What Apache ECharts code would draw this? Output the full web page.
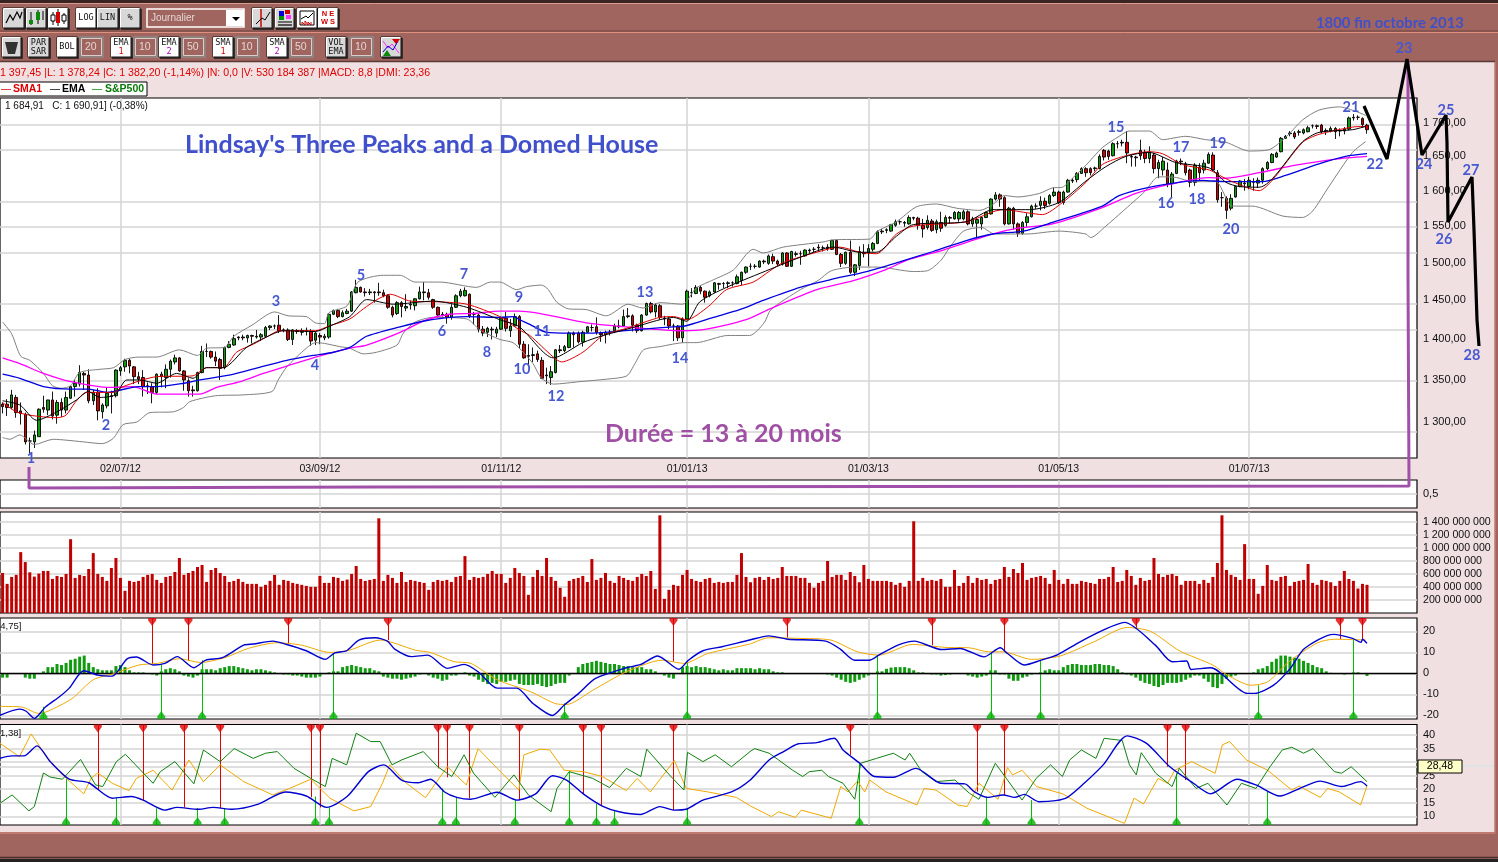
<!DOCTYPE html>
<html><head><meta charset="utf-8">
<style>html,body{margin:0;padding:0;background:#000;overflow:hidden}#c{width:1498px;height:862px}</style>
<script src="https://cdn.jsdelivr.net/npm/echarts@6/dist/echarts.min.js"></script>
</head><body><div id="c"></div>
<script>
// ---------- DATA ----------
const priceTicks=[1300,1350,1400,1450,1500,1550,1600,1650,1700];
const dateTicks=[26,70,110,151,191,233,275];
const dateLabels=['02/07/12','03/09/12','01/11/12','01/01/13','01/03/13','01/05/13','01/07/13'];
const volTicks=[200,400,600,800,1000,1200,1400];
const macdTicks=[-20,-10,0,10,20];
const dmiTicks=[10,15,20,25,30,35,40];
// open, close, low, high per session
const candles=[
[1321,1318,1310,1323],[1321,1317,1307,1327],[1317,1332,1315,1338],[1329,1311,1305,1332],[1313,1310,1297,1323],[1309,1277,1274,1311],[1278,1278,1264,1282],[1277,1285,1270,1290],[1283,1315,1283,1316],[1317,1315,1311,1331],
[1314,1326,1308,1326],[1326,1307,1303,1336],[1308,1323,1298,1326],[1323,1314,1306,1328],[1314,1329,1310,1336],[1328,1342,1327,1343],[1342,1346,1330,1350],[1345,1359,1342,1368],[1358,1356,1338,1360],[1356,1325,1322,1363],
[1325,1335,1320,1338],[1335,1313,1302,1340],[1312,1320,1304,1322],[1319,1334,1316,1341],[1331,1330,1310,1337],[1331,1362,1329,1363],[1361,1365,1355,1367],[1366,1374,1360,1376],[1374,1367,1358,1376],[1366,1354,1345,1367],
[1354,1351,1345,1360],[1353,1342,1330,1362],[1343,1342,1333,1347],[1342,1335,1322,1346],[1335,1357,1333,1358],[1357,1354,1341,1360],[1353,1363,1340,1369],[1363,1373,1353,1375],[1372,1377,1369,1381],[1377,1361,1360,1378],
[1361,1350,1337,1362],[1349,1337,1330,1352],[1338,1337,1330,1343],[1337,1359,1336,1360],[1359,1385,1358,1392],[1385,1385,1378,1395],[1385,1378,1376,1386],[1378,1373,1367,1385],[1375,1364,1350,1377],[1365,1390,1363,1391],
[1390,1394,1389,1398],[1393,1401,1392,1406],[1402,1403,1399,1404],[1403,1402,1399,1406],[1402,1405,1396,1406],[1405,1404,1395,1406],[1404,1403,1401,1412],[1403,1406,1398,1408],[1404,1415,1402,1417],[1415,1417,1412,1418],
[1417,1417,1413,1419],[1418,1411,1408,1431],[1412,1412,1409,1414],[1412,1400,1398,1414],[1400,1412,1393,1413],[1411,1410,1407,1413],[1409,1411,1405,1414],[1411,1410,1405,1415],[1410,1398,1392,1413],[1399,1408,1393,1410],
[1405,1403,1394,1408],[1402,1404,1399,1407],[1403,1432,1401,1433],[1432,1437,1431,1438],[1437,1429,1427,1439],[1429,1434,1428,1437],[1433,1436,1432,1439],[1436,1461,1435,1462],[1460,1467,1459,1477],[1467,1461,1460,1468],
[1461,1460,1455,1466],[1460,1461,1457,1465],[1461,1460,1447,1462],[1461,1460,1456,1473],[1460,1456,1454,1464],[1456,1441,1439,1458],[1441,1431,1428,1443],[1433,1447,1431,1449],[1447,1442,1428,1449],[1440,1442,1436,1458],
[1444,1445,1438,1450],[1443,1452,1437,1453],[1452,1461,1451,1468],[1461,1460,1450,1474],[1460,1454,1451,1465],[1451,1441,1439,1452],[1441,1431,1428,1442],[1431,1432,1429,1435],[1432,1428,1420,1434],[1428,1441,1425,1445],
[1441,1456,1440,1458],[1456,1462,1454,1465],[1456,1463,1455,1467],[1458,1430,1427,1459],[1432,1432,1419,1435],[1431,1413,1409,1433],[1413,1408,1404,1417],[1409,1414,1403,1416],[1413,1412,1400,1416],[1408,1413,1403,1416],
[1413,1427,1412,1429],[1427,1414,1410,1435],[1411,1417,1403,1426],[1417,1429,1416,1433],[1429,1394,1389,1431],[1394,1377,1376,1398],[1380,1379,1368,1394],[1380,1381,1372,1390],[1382,1375,1372,1386],[1374,1352,1351,1378],
[1356,1355,1345,1365],[1353,1360,1344,1367],[1359,1387,1358,1388],[1387,1386,1383,1393],[1386,1391,1384,1393],[1390,1408,1389,1410],[1408,1406,1390,1410],[1408,1397,1395,1410],[1397,1409,1391,1411],[1409,1416,1408,1417],
[1415,1415,1410,1419],[1416,1409,1406,1428],[1408,1406,1397,1410],[1406,1409,1395,1411],[1409,1409,1405,1412],[1411,1417,1408,1420],[1416,1417,1414,1425],[1417,1429,1416,1438],[1429,1430,1427,1440],[1430,1418,1410,1432],
[1418,1411,1408,1420],[1411,1431,1410,1432],[1431,1446,1430,1447],[1446,1435,1433,1448],[1435,1444,1428,1446],[1443,1428,1425,1445],[1427,1426,1418,1430],[1426,1417,1413,1428],[1417,1417,1398,1420],[1417,1402,1398,1418],
[1402,1426,1396,1428],[1426,1462,1425,1464],[1460,1460,1454,1466],[1459,1467,1458,1470],[1467,1462,1458,1470],[1462,1454,1447,1463],[1456,1461,1454,1463],[1461,1473,1460,1474],[1472,1471,1464,1473],[1472,1472,1466,1474],
[1472,1473,1466,1475],[1473,1473,1468,1475],[1472,1481,1471,1484],[1476,1487,1470,1488],[1487,1494,1485,1495],[1495,1495,1490,1499],[1495,1495,1492,1498],[1494,1502,1493,1503],[1502,1501,1498,1504],[1499,1509,1497,1511],
[1508,1502,1498,1512],[1502,1498,1495,1504],[1498,1513,1496,1514],[1513,1495,1494,1514],[1495,1515,1494,1516],[1512,1511,1508,1515],[1512,1512,1497,1516],[1509,1517,1508,1518],[1517,1516,1513,1519],[1518,1518,1514,1521],
[1521,1520,1515,1525],[1520,1520,1515,1523],[1521,1519,1516,1525],[1518,1530,1517,1531],[1530,1511,1510,1531],[1511,1499,1494,1513],[1499,1514,1497,1515],[1514,1487,1485,1530],[1487,1497,1482,1498],[1496,1515,1490,1522],
[1513,1512,1507,1525],[1513,1519,1495,1525],[1518,1526,1515,1528],[1526,1542,1525,1544],[1543,1542,1539,1546],[1544,1545,1540,1547],[1543,1552,1542,1553],[1551,1556,1549,1559],[1556,1556,1552,1558],[1554,1555,1549,1557],
[1553,1562,1552,1565],[1562,1561,1558,1563],[1561,1551,1545,1563],[1551,1546,1534,1560],[1548,1558,1545,1565],[1557,1544,1542,1560],[1545,1556,1540,1559],[1555,1547,1542,1570],[1551,1562,1549,1565],[1562,1561,1553,1564],
[1560,1569,1559,1571],[1560,1569,1556,1571],[1560,1570,1558,1573],[1570,1553,1551,1572],[1553,1560,1549,1563],[1554,1559,1533,1562],[1553,1562,1545,1563],[1562,1569,1561,1570],[1567,1588,1566,1589],[1588,1594,1586,1598],
[1594,1588,1577,1596],[1590,1553,1551,1592],[1553,1575,1552,1577],[1575,1553,1545,1577],[1553,1540,1535,1555],[1540,1555,1538,1557],[1555,1563,1549,1568],[1563,1578,1562,1580],[1578,1578,1574,1582],[1579,1585,1572,1592],
[1585,1579,1574,1590],[1582,1593,1580,1595],[1593,1598,1591,1605],[1598,1583,1581,1600],[1583,1598,1580,1600],[1598,1615,1597,1617],[1615,1614,1611,1618],[1616,1625,1612,1627],[1625,1632,1624,1634],[1632,1626,1620,1634],
[1632,1626,1622,1634],[1632,1633,1628,1635],[1632,1650,1631,1653],[1659,1649,1644,1661],[1658,1650,1645,1660],[1651,1669,1650,1671],[1669,1669,1662,1673],[1670,1671,1665,1675],[1671,1655,1640,1688],[1650,1649,1635,1652],
[1649,1648,1635,1651],[1659,1651,1645,1675],[1656,1647,1640,1660],[1647,1656,1640,1665],[1652,1632,1625,1655],[1632,1641,1618,1645],[1630,1643,1622,1649],[1630,1610,1605,1641],[1610,1624,1590,1627],[1625,1643,1624,1645],
[1643,1642,1637,1647],[1639,1626,1622,1642],[1630,1612,1605,1632],[1612,1637,1607,1640],[1634,1626,1615,1640],[1630,1640,1625,1645],[1640,1653,1639,1656],[1652,1630,1628,1656],[1626,1587,1583,1630],[1590,1590,1577,1598],
[1589,1572,1560,1592],[1575,1589,1572,1595],[1591,1606,1590,1607],[1606,1614,1605,1615],[1610,1611,1600,1617],[1606,1615,1602,1620],[1612,1613,1600,1618],[1611,1615,1604,1619],[1615,1632,1610,1634],[1632,1641,1630,1643],
[1641,1653,1640,1655],[1649,1655,1648,1657],[1657,1677,1656,1679],[1677,1680,1676,1682],[1684,1685,1680,1688],[1685,1679,1676,1688],[1686,1687,1681,1690],[1685,1690,1683,1692],[1687,1693,1686,1696],[1696,1696,1692,1698],
[1696,1695,1691,1698],[1697,1687,1685,1699],[1689,1688,1682,1692],[1688,1692,1686,1695],[1692,1687,1676,1694],[1689,1688,1680,1692],[1688,1691,1683,1694],[1691,1708,1689,1710],[1708,1709,1704,1714],[1709,1709,1705,1712],
[1707,1698,1693,1709],[1697,1690,1684,1699]];
const bollUp=[[0,1422],[2,1407],[4,1379],[6,1374],[9,1358],[11,1343],[13,1340],[15,1343],[17,1359],[21.5,1363],[24.5,1365],[27,1375],[30,1378],[34,1378],[39,1387],[43,1380],[45,1389],[49,1390],[51,1404],[55,1418],[60,1435],[63,1430],[67,1429],[69,1421],[71,1420],[72,1434],[76,1443],[78.4,1474],[84,1483],[87.7,1483],[91,1474],[96.5,1474],[104.6,1467],[107.6,1474],[109.7,1474],[113.4,1464],[115.6,1468],[118.9,1470],[120.4,1464],[122.2,1448],[124.8,1439],[128.8,1438],[133.2,1430],[138,1445],[141.3,1440],[145,1447],[150,1445],[153,1466],[156.8,1477],[161.2,1490],[165.6,1518],[167.8,1513],[172.2,1521],[181,1528],[183.2,1531],[191.3,1532],[193,1543],[197.2,1556],[201.6,1577],[206,1581],[210.5,1575],[215.6,1572],[218.4,1580],[221,1593],[224,1591],[228.7,1596],[231.6,1604],[233.8,1605],[236,1618],[239,1637],[242.6,1663],[246.3,1680],[248.5,1688],[253,1688],[255.9,1675],[261,1680],[265.4,1675],[269.9,1671],[275,1658],[279.4,1660],[283,1678],[286.8,1705],[290.4,1720],[294.9,1725],[300.7,1712]];
const bollLow=[[0,1282],[1.6,1280],[3.8,1285],[7,1274],[11.2,1280],[14,1279],[17.8,1277],[22,1275],[24.4,1281],[26.6,1297],[29.6,1300],[32.5,1311],[37.7,1312],[39.9,1317],[41.3,1324],[47,1331],[53,1332],[59.4,1336],[60.8,1350],[62.7,1366],[67,1389],[69,1396],[71,1395],[74.4,1391],[76.6,1389],[79.6,1382],[82.5,1384],[87,1393],[88.4,1408],[91,1422],[95,1428],[102.4,1426],[105.3,1412],[109.7,1400],[112.6,1396],[115,1383],[117,1370],[118.9,1352],[121.5,1345],[127.4,1348],[133.3,1351],[137.7,1355],[139.5,1370],[141.4,1387],[145,1391],[150.5,1396],[153,1396],[160,1405],[164.8,1405],[168,1421],[169.5,1438],[176,1464],[179.9,1476],[182.8,1489],[188,1494],[193,1494],[201,1488],[204,1489],[207,1503],[209,1521],[212,1543],[216,1548],[218.8,1539],[226,1539],[233,1543],[239,1539],[240,1534],[243.4,1550],[247,1570],[252,1599],[255,1620],[259,1619],[262.5,1613],[267.6,1613],[271.3,1578],[275.7,1578],[282.4,1564],[286.8,1562],[289,1571],[292.6,1606],[297.8,1656],[300.7,1672]];
const ema50=[[0,1357],[3.8,1352],[9,1342],[15,1339],[19,1339],[23,1335],[30,1342],[34,1342],[40,1346],[43.5,1350],[51,1357],[57,1366],[62.7,1374],[68.5,1380],[73,1384],[76.6,1390],[80.3,1404],[87.7,1416],[93.6,1424],[98.7,1428],[102.4,1429],[109.7,1428],[112.7,1429],[114.1,1425],[116.3,1419],[120,1409],[125,1408],[130.1,1408],[141.3,1413],[148,1416],[150.5,1417],[156.8,1428],[162.6,1438],[167.8,1450],[175.9,1467],[182.5,1477],[190.6,1488],[197.9,1501],[205.3,1515],[212.6,1530],[218.5,1539],[225.2,1543],[231.6,1555],[242.6,1578],[246.3,1593],[253.7,1606],[264.7,1615],[269.9,1613],[277.9,1613],[283,1622],[290.4,1639],[296.3,1650],[301,1654]];
const sma50=[[0,1377],[3.8,1370],[9,1358],[15,1348],[23.7,1341],[28.8,1342],[34,1333],[43.5,1333],[47.2,1341],[52.4,1348],[57.5,1358],[62.7,1367],[68.5,1377],[76.6,1389],[80.3,1393],[87.7,1409],[93.6,1425],[98.7,1432],[103.9,1433],[109.7,1436],[114,1436],[128.8,1421],[133.2,1418],[141.3,1414],[150,1411],[155.3,1413],[164,1425],[169.3,1439],[179.6,1464],[187.7,1476],[195,1491],[199.4,1503],[207.5,1517],[218.5,1539],[224,1547],[231.6,1553],[242.6,1576],[250,1596],[257.4,1609],[266.2,1619],[269.9,1618],[277.2,1626],[285.3,1637],[294.1,1646],[301,1650]];
const sma10=[[0,1323],[3,1312],[6,1308],[9,1306],[12,1305],[14,1308],[16,1323],[18.5,1335],[24.4,1335],[26.6,1342],[34,1354],[42,1355],[45,1365],[48.7,1365],[51.6,1384],[55.3,1394],[58.2,1403],[61.2,1411],[69,1411],[72,1417],[76.6,1426],[79.6,1439],[82.6,1451],[85.5,1458],[90,1449],[96.5,1448],[102.4,1445],[109.7,1429],[114,1412],[116.3,1405],[121.5,1378],[123.3,1372],[128,1384],[132.5,1405],[137.6,1414],[145,1428],[148,1429],[150.9,1425],[155.7,1442],[159.7,1464],[165.6,1474],[169.3,1489],[172.2,1500],[179.6,1514],[184.7,1521],[189.1,1514],[192.8,1512],[197.2,1539],[200.9,1550],[212.6,1556],[218.5,1570],[220.7,1573],[226.6,1568],[229.4,1566],[233.8,1583],[239,1612],[242.6,1638],[247.8,1651],[252.9,1657],[255.9,1654],[260.3,1638],[266.2,1630],[269.1,1620],[271.3,1613],[277.2,1600],[280.1,1615],[286.8,1671],[290.4,1683],[297.8,1694],[300.7,1695]];
const ema10=[[0,1325],[3.8,1320],[7.5,1302],[12,1312],[16.3,1326],[18.9,1336],[21.5,1329],[24.8,1332],[27.4,1350],[30.3,1350],[34,1346],[38.4,1358],[42,1352],[45,1365],[48.7,1365],[53.8,1390],[58.2,1403],[61.9,1411],[69,1410],[72.2,1417],[76.6,1429],[80.3,1451],[86.2,1445],[95,1449],[102.4,1441],[109.7,1425],[114,1416],[121.5,1377],[128,1396],[132.5,1405],[138.4,1414],[145,1425],[148,1428],[150.9,1423],[153.8,1448],[159.7,1467],[169.3,1491],[175.9,1507],[183.2,1521],[189.1,1514],[192.8,1514],[197.2,1536],[200.9,1552],[212.6,1556],[218.5,1573],[226.5,1573],[233,1583],[239,1614],[243.4,1635],[247.8,1650],[252.9,1656],[258.8,1641],[266.2,1633],[269.9,1612],[272.8,1606],[277.2,1605],[286.8,1672],[290.4,1686],[297.8,1690],[300.7,1695]];
// volume, millions of shares
const volume=[617,449,556,587,938,785,627,561,607,648,648,525,571,556,602,1137,541,587,571,678,923,602,556,495,694,847,541,342,495,479,495,556,587,602,510,464,556,571,632,847,587,617,648,709,740,479,663,694,617,571,479,495,525,479,449,449,449,403,434,495,587,434,510,495,464,449,434,418,403,403,571,464,464,556,541,495,515,602,724,525,495,510,525,1459,495,587,541,464,632,479,510,495,479,464,357,479,510,495,510,479,556,571,877,510,556,541,556,602,648,602,602,464,541,694,617,571,280,556,663,571,847,556,495,388,250,495,525,541,571,479,831,510,541,617,495,464,571,541,510,495,556,602,571,648,372,1505,219,357,434,418,587,663,525,495,479,525,541,464,479,464,479,479,587,923,556,474,541,556,510,556,525,541,709,571,571,571,541,541,464,388,464,495,801,556,587,587,510,632,571,474,740,525,495,495,495,495,479,434,464,403,495,1413,495,541,495,510,495,525,403,403,663,418,464,571,464,541,510,525,449,510,525,709,556,678,617,770,510,541,556,571,541,449,663,510,449,525,449,449,495,479,464,449,525,525,556,709,479,495,663,571,434,541,495,510,847,602,556,587,602,571,434,495,495,495,449,510,464,556,770,1505,663,587,556,510,1061,525,525,296,418,740,510,495,556,571,418,479,495,510,755,464,434,510,495,474,418,495,648,525,495,377,449,434];
const macdHist=[-2,-2,0,0,0,-2,-2.5,-2.5,0,1,3,3,4.5,4,5,6.5,7,8,8.5,5,3,2,1.5,1.5,1.5,3.5,4,3,1.5,.5,.5,.5,0,-.5,-1,1,2,2.5,2,1,-1,-1.5,-2,-1,2,2,2,1.5,2.5,3,3.5,3.5,3,2.5,2,1.5,2,2,1.5,1,.5,0,-.5,-.5,-1,-1,-1.5,-2,-2,-2,-1.5,0,.5,1,1,3,3.5,4,3.5,3,2.5,2.5,1.5,1,-1.5,-2,-2.5,-2.5,-3,-2.5,-2,-1.5,-.5,0,-1,-2,-2.5,-3.5,-3,-1,-1,0,.5,-1,-1.5,-3,-4,-5,-4.5,-5,-4,-4,-3.5,-3,-5,-5.5,-5.5,-5.5,-5,-6,-6.5,-6,-5,-4.5,-4.5,-1,0,3,4.5,5,5.5,6,5.5,5,4.5,4.5,4,3.5,3.5,3,3,3,2,2,1,0,-1,-2,-2.5,0,3,3.5,3,3.5,3,3,2.5,2,1.5,2,1.5,1.5,2.5,2.5,2.5,2.5,2,2.5,2,2,1,.5,.5,0,0,0,0,0,0,0,0,0,-.5,-1,-2,-3,-4,-4.5,-4,-3,-2,-1,0,1,1,2.2,2.8,3,3,3,2.5,1.5,.5,.5,0,-.5,-.5,-1,-.8,-.5,0,0,0,-1,-1.5,-2,-1.5,-1,1.5,1.5,-.5,-.5,-2.5,-3.5,-3.5,-2,-1.5,-.5,0,.5,1.5,2,1.5,1.5,3,4,4.5,4.5,4,4,4,4.5,4.5,4,4,3.5,2,.5,-.5,-1,-2,-3.5,-4.5,-5,-6,-6.5,-5.5,-4.5,-4.5,-4.5,-4,-3,-2,-1,-1,-2.5,-4,-6.5,-7,-5,-2.5,-1.5,-1,0,0,0,.5,2,2.5,3.5,5.5,7,8.5,8.5,8,7.5,7,6,5,4,3,2.5,1,.3,0,0,-.5,0,.5,.5,0,-1.2];
const macdLine=[[-0.6,-20],[3.7,-17],[5.2,-18],[7,-21.4],[9.5,-15.9],[12.6,-11],[14.7,-7],[17.9,1.3],[21,-.8],[24.2,-1.3],[27.4,6.8],[29.5,7.8],[33.2,4],[35.8,4.8],[38.5,8],[42.2,2.7],[44.8,6.3],[48.5,7.5],[53.2,13.5],[55.3,14],[59.6,15.4],[62.7,13.8],[67,10.8],[71.2,6.7],[73.3,9.8],[75.9,10.8],[78.6,15.9],[82.2,17],[84.9,15.4],[86.5,11.6],[90.2,8],[93.8,8.7],[98.1,2.4],[101.8,4.3],[104.9,.8],[109.1,-7],[113.4,-7],[117,-14.3],[121.3,-20],[123.9,-15],[127.1,-9.5],[130.8,-2.4],[137.6,2.7],[140.8,4.3],[144.5,8.3],[149.2,2],[151.3,6.3],[154.5,10.8],[158.7,12.7],[164.8,15.9],[169,17.9],[173.2,16.3],[181.6,15.4],[184.8,11.6],[188,6.3],[191.2,6.3],[193.3,8.7],[197.5,13.5],[201.2,15.4],[204.9,12.7],[207,11.4],[211.2,11.9],[216.5,7.9],[220.1,12.2],[221.7,9.5],[225.4,4],[229.1,6.3],[232.8,9],[237.5,14.8],[242.8,20.6],[247.5,24.3],[254.3,13.5],[258,5.6],[261.2,5.9],[262.2,1.9],[266.5,2.7],[274.6,-9.5],[276.2,-9.5],[280.4,-5.6],[284.1,2.4],[287.2,11.9],[293.6,18.6],[297.8,16.7],[299.7,14.8],[300,16.3],[301,14.3]];
const macdSignal=[[-0.6,-15.7],[4.2,-16],[7.9,-19],[10,-18],[15.3,-12],[20,-3],[24.7,0],[30,4],[34.2,4.8],[39,7],[43.7,5.2],[49,7.5],[54.3,12],[60.6,14.6],[65.9,13.5],[72.2,10],[76.4,11],[83.3,15.9],[91.2,11],[94.4,10],[99.6,5.6],[103.3,4.8],[109.1,-3],[116.5,-8.7],[121.8,-14.3],[124.4,-14.8],[130.2,-8],[137.6,.8],[145.5,6.3],[150.3,4.8],[155.6,9.5],[164.8,14],[169,17],[175.4,16.7],[182.7,15.9],[188.6,10.3],[193.3,8.7],[200.7,13.8],[208.1,12.4],[213.3,12.2],[217.5,10.3],[220.7,10.3],[227,6.7],[233.3,8.3],[240.7,15],[248.1,21.9],[253.3,20],[259.6,10.8],[267,4],[270.2,-.8],[275.4,-5.6],[279.1,-4],[283.8,5.6],[290.1,14.6],[293.8,16.3],[300.7,15.9]];
const macdSell=[[33,4.3],[41,5.9],[63,14.3],[85,15.9],[148,5.6],[173,17.1],[205,13.5],[221,10.3],[250,21.7],[295,16.3],[300,15.9]];
const macdBuy=[[9,-15.9],[35,4.3],[44,6.3],[73,9.5],[124,-14.3],[151,6.3],[193,8.7],[218,10.3],[229,6.3],[277,-5.6],[298,16.7]];
const adx=[[-0.6,31.4],[2.1,32.3],[4.7,32.3],[7.6,36],[10.5,30.2],[14.7,23.7],[19,22.4],[24.2,16.7],[28.4,17.3],[31,16],[35.8,12.3],[38.5,13.3],[43.2,12.6],[46.4,13.3],[50.6,12.6],[56.4,14.5],[62.4,19],[67,17.5],[71.5,13.3],[76,17.3],[80.7,26.5],[84.1,29],[88,23.4],[91.7,22.4],[94.4,23.7],[97.5,19],[100.2,17],[103.3,16.3],[109.1,18.9],[113.4,16],[117.6,18.3],[121.3,25],[124.4,23.4],[128.1,18.3],[132.3,13.8],[136,11.7],[140.8,10.7],[145,13.6],[148.2,12.3],[150.8,12.6],[154.5,16],[160.8,19],[164.8,23.2],[169.1,30.8],[172.3,33.9],[175.4,36.7],[179.6,37.2],[183.5,38.8],[185.4,34.5],[189.1,29.6],[192.3,24.7],[196.5,24.4],[201.5,27.7],[207,22.2],[212.3,22],[214.4,19],[217.3,17],[220.7,17.9],[223.3,17],[225.4,18.1],[228.6,15.4],[232.3,15.8],[234.9,17],[238.6,22.2],[242.8,29],[248.1,39.7],[252.3,37],[257.5,28.3],[262.7,22.2],[266.5,18.3],[272.3,23.7],[276.5,21.6],[281.8,17.5],[285.9,20.1],[290.7,23],[295.4,21],[299.6,22.8],[301,21.2]];
const diPlus=[[-0.6,14.8],[2.1,17.9],[5.8,12],[7,13.6],[9,26],[10.5,24.5],[13.2,23.7],[17.2,31],[20.5,21.6],[22.1,21],[25.1,30.2],[27.1,32.9],[31.1,25.9],[33.2,22.2],[34.8,26.5],[38,30.2],[42.2,22],[44.3,34.5],[48,30.2],[51.1,35],[55.3,31.4],[58,33.3],[60.6,33.9],[64.3,27.7],[68,24],[71.2,21],[72.7,31.4],[75.9,29],[78,40.7],[81.2,37.6],[83.3,37.6],[85.9,29],[88,30.8],[92.8,33.9],[96,28.3],[99.1,24.7],[101.8,32.7],[103.9,25.9],[108.6,17],[112.8,25.3],[116,17.9],[121,11.7],[122.3,20.3],[125,26.5],[130.2,24],[133.9,20.6],[137.6,27.7],[140.8,24.7],[142.1,34.8],[147.1,25.3],[150.3,19.7],[151.1,33.6],[154.5,30.2],[157.2,32.7],[160.8,28.3],[164.9,33.9],[165.9,35],[169.1,33.3],[171.2,30.8],[174.3,27],[176.5,24.7],[178,26.5],[180.7,27],[182.2,24.7],[185.4,22.2],[188,16.3],[189.3,29.6],[192.8,31.4],[196.5,33.3],[199.1,30.8],[200.1,33.3],[202.8,26.5],[205.9,22.8],[210.1,23.4],[213.3,18.5],[215.4,16.3],[219,29.6],[224.9,16],[228,24],[231.2,29],[233.8,24.7],[235.4,30.8],[238,34.5],[241.2,31.4],[243,38.8],[247,38],[248.6,29],[250.1,25.3],[251.2,33.5],[254.4,25.9],[258,21],[259.6,27.7],[263.3,20.3],[265.9,22.2],[270.1,14.2],[273.3,22.2],[276.5,20.3],[279.6,28.3],[282.3,34.5],[284.4,35.5],[287,33.3],[289.1,35],[293.8,26.5],[295.4,25.9],[297.5,28.3],[301,22.8]];
const diMinus=[[-0.6,37],[3.7,32],[6.3,40.4],[10,31.4],[13.2,25.3],[17.9,18.3],[19.5,24],[21,26],[24.2,22.2],[27.9,19.5],[29.5,24],[33.2,27],[37.4,19.7],[41.1,30.8],[44.3,22.8],[48,29],[53.2,22.8],[59.6,17.9],[63.3,20.3],[68,23.7],[72.2,16.7],[77.5,12],[81.2,13.6],[83.8,22.2],[85.4,29],[89.1,22.2],[93.3,16.9],[98.1,28.3],[102.3,21.6],[104.9,35],[109.1,27.7],[113.9,19.7],[115,32.7],[118.6,34.8],[120.7,34.5],[123.9,27],[128.1,26.5],[132.3,24.7],[137.6,19.5],[140,24],[142.9,19],[148.2,30.6],[150.8,20.3],[155.6,19],[161.9,17],[165,13.8],[169.6,9.9],[171.2,11.7],[174.9,9.6],[176.2,12.3],[182.8,9.3],[184.9,21],[186.5,19],[188.6,23],[190.2,19],[191.3,23.4],[194.9,19],[201.7,14.2],[203.3,20.3],[205.9,19.7],[210.7,14.2],[212.8,13.6],[215.4,22.2],[219.6,16.3],[221.7,28],[222.8,25.3],[224.9,27],[228.1,21],[231.3,19.5],[233.9,18.3],[239.2,13],[247.5,7.4],[249.6,16.7],[251.7,14.6],[254.9,24],[257,22.2],[258.6,27],[262.3,30.2],[267.5,25.9],[269.1,36.4],[270.7,37.6],[274.4,30.8],[279.1,27],[284.4,19.7],[286,21.2],[290.7,17],[292.3,20.3],[294.9,19],[299.6,14.2],[301,21.3]];
const dmiSell=[[21,19.7],[31,16],[40,13.3],[48,13],[68,17],[70,13.3],[96,27.7],[98,24.4],[103,16.7],[114,16],[128,18.3],[132,14.2],[148,12.3],[187,32.7],[215,19.1],[221,17.9],[257,28.3],[261,23.4]];
const dmiBuy=[[14,23.7],[25,16.7],[34,13],[43,13],[49,13],[69,17.3],[72,13.3],[97,20.3],[100,17],[113,16],[125,26.5],[131,14.6],[135,12.1],[151,13],[189,29.6],[217,17.3],[227,16],[259,25.9],[279,19.1]];
// hand-drawn annotations, in picture coordinates
const waveLabels=[['1',31,458],['2',106,425],['3',276,301],['4',315,365],['5',361,275],['6',442,331],['7',464,274],['8',487,352],['9',519,297],['10',522,369],['11',542,331],['12',556,396],['13',645,292],['14',680,358],['15',1116,127],['16',1166,203],['17',1181,147],['18',1197,199],['19',1218,143],['20',1231,229],['21',1351,107],['22',1375,164],['23',1404,48],['24',1424,164],['25',1446,110],['26',1444,239],['27',1471,170],['28',1472,355]];
const forecast=[[1364,106],[1387,159],[1407,59],[1422,155],[1446,115],[1447,143],[1448,222],[1472,177],[1474,230],[1477,320],[1479,346]];
const durationLine=[[1408,60],[1408,274],[1409,276],[1409,486],[375,487],[29,488],[29,467]];

// ---------- HELPERS ----------
const lg=v=>Math.log10(v);
const pxToPrice=y=>1300*Math.exp((422-y)/1114);
const xMin=-0.574,xMax=312.03;
const fmtThousands=v=>String(Math.round(v)).replace(/\B(?=(\d{3})+(?!\d))/g,' ');
const LBL='"Liberation Sans",Arial,sans-serif';
const LBL2='Lato,"Noto Sans",sans-serif';
const GRID='#d4d4d4';
const grids=[
 {left:0,top:98,width:1417,height:360},
 {left:0,top:480,width:1417,height:28},
 {left:0,top:512,width:1417,height:101},
 {left:0,top:618,width:1417,height:101},
 {left:0,top:724.5,width:1417,height:100.5},
 {left:0,top:0,width:1498,height:862,show:false,borderWidth:0}
].map((g,i)=>i<5?Object.assign({show:true,backgroundColor:'#fff',borderColor:'#000',borderWidth:1.2},g):g);
const xAxes=[0,1,2,3,4].map(i=>({gridIndex:i,type:'value',min:xMin,max:xMax,
  axisLine:{show:false},
  axisTick:{show:false,customValues:dateTicks},
  splitLine:{show:true,lineStyle:{color:GRID,width:1.5}},
  axisLabel:i===0?{show:true,customValues:dateTicks,color:'#111',fontSize:10.5,fontFamily:LBL,margin:6,
     formatter:v=>dateLabels[dateTicks.indexOf(Math.round(v))]||''}:{show:false}}));
xAxes.push({gridIndex:5,type:'value',min:0,max:1498,show:false});
function yAxis(i,min,max,labels,fmt,size){
  return {gridIndex:i,type:'value',position:'right',min,max,
    axisLine:{show:false},
    axisTick:{show:false,customValues:labels},
    splitLine:{show:false},
    axisLabel:{show:true,customValues:labels,formatter:fmt,color:'#111',fontSize:size||11,fontFamily:LBL,margin:6}};
}
const yAxes=[
 yAxis(0,lg(pxToPrice(458)),lg(pxToPrice(98)),priceTicks.map(lg),v=>fmtThousands(Math.pow(10,v))+',00'),
 yAxis(1,0,1,[0.5],()=>'0,5'),
 yAxis(2,0,1556,volTicks,v=>fmtThousands(v*1e6),10.6),
 yAxis(3,-21.7,26.4,macdTicks,v=>String(v)),
 yAxis(4,6.8,43.9,[10,15,20,25,35,40],v=>String(v)),
 {gridIndex:5,type:'value',min:0,max:862,inverse:true,show:false}
];
// horizontal grid rules read through the panel's own y scale
const rules=(gi,vals)=>({type:'line',xAxisIndex:gi,yAxisIndex:gi,silent:true,symbol:'none',z:1,
  data:[[0,vals[0]],[1,vals[0]]],lineStyle:{opacity:0},
  markLine:{silent:true,symbol:'none',animation:false,label:{show:false},z:1,lineStyle:{color:GRID,width:1.5,type:'solid'},
    data:vals.map(v=>({yAxis:v}))}});
const line=(name,data,color,w,gi,transform,smooth)=>({name,type:'line',xAxisIndex:gi,yAxisIndex:gi,symbol:'none',silent:true,smooth:smooth||false,
  data:data.map(p=>[p[0],transform?transform(p[1]):p[1]]),lineStyle:{color,width:w},z:5});
const priceLine=(n,d,c,w)=>line(n,d,c,w,0,lg,0.25);
const DOWN='path://M0 0L10 0L10 3L5 10L0 3Z', UP='path://M5 0L10 7L10 10L0 10L0 7Z';
function signals(gi,list,top,color,dark){
  const isTop=top.dir<0;
  return [{
    type:'scatter',xAxisIndex:gi,yAxisIndex:gi,clip:false,silent:true,symbol:isTop?DOWN:UP,symbolSize:[8,8],
    symbolOffset:[0,isTop?4:-4],data:list.map(p=>[p[0],top.val]),itemStyle:{color:dark},z:8,
    markLine:{silent:true,symbol:'none',animation:false,label:{show:false},lineStyle:{color,width:1,type:'solid'},
      data:list.map(p=>[{coord:[p[0],top.val]},{coord:[p[0],p[1]]}])}
  }];
}
// ---------- GRAPHICS (window furniture) ----------
const BROWN='#a0655f',PINK='#f0e0e1';
const gfx=[];
const rect=(x,y,w,h,fill,stroke,z,lw)=>gfx.push({type:'rect',z:z===undefined?-5:z,silent:true,shape:{x,y,width:w,height:h},style:{fill:fill||'none',stroke:stroke||null,lineWidth:lw||1}});
const text=(t,x,y,o)=>gfx.push({type:'text',z:o.z||60,silent:true,style:Object.assign({text:t,x,y,textAlign:o.align||'left',textVerticalAlign:'middle',fontFamily:o.family||LBL,fontSize:o.size||10,fontWeight:o.weight||'normal',fill:o.fill||'#000'},{})});
const pl=(pts,stroke,w,z)=>gfx.push({type:'polyline',z:z||3,silent:true,shape:{points:pts},style:{stroke,lineWidth:w||1,fill:'none'}});
rect(0,0,1498,862,BROWN);
rect(0,0,1498,3,'#3a2422');pl([[0,3.5],[1498,3.5]],'#d99a90',1);
pl([[0,31],[1498,31]],'#6e4540',1);pl([[0,32.5],[1498,32.5]],'#e0907f',1);
rect(0,62,1495,771,PINK);pl([[0,61.5],[1495,61.5]],'#5a3a36',1.5);
pl([[0,833],[1495,833]],'#c07a70',2);pl([[1495,62],[1495,833]],'#c07a70',1.5);
pl([[0,857.5],[1498,857.5]],'#4a2e2b',1.5);rect(0,859,1498,3,'#222');
// toolbar
function btn(x,y,w,h,bg,lines,extra){
  rect(x,y,w,h,bg,'#111',2);
  pl([[x+0.5,y+h-0.5],[x+0.5,y+0.5],[x+w-0.5,y+0.5]],'#fff',1,2);
  pl([[x+w+1,y+1],[x+w+1,y+h+1],[x+1,y+h+1]],'#1a1a1a',1.5,2);
  (lines||[]).forEach((l,i)=>{
    const n=lines.length,yy=y+h/2+(i-(n-1)/2)*9;
    text(l.t||l,x+w/2,yy,{align:'center',size:8.5,family:'"DejaVu Sans Mono",monospace',fill:l.c||'#111',z:5});
  });
}
function input(x,y,w,h,t){
  rect(x,y,w,h,BROWN,'#8a8a8a',2,1.5);rect(x+1.5,y+1.5,w-3,h-3,BROWN,'#e8e8e8',2,.8);
  text(t,x+5,y+h/2,{size:10.5,fill:'#e4d6d4',z:5});
}
const G='#d8d8d8',W='#fff';
btn(3,8,21,20,G);pl([[6,23],[10,15],[13,20],[17,12],[20,18],[22,12]],'#000',1.2,4);
btn(26,8,20,20,G);pl([[31,12],[31,25]],'#000',1,4);rect(29,20,4,4,'#0a8a0a',null,4);pl([[38,10],[38,24]],'#000',1,4);rect(36,12,4,8,'#0a8a0a',null,4);pl([[43,11],[43,20]],'#000',1,4);
btn(48,8,20,20,W);pl([[53,12],[53,25]],'#000',1,4);rect(51,15,4,6,'#fff','#000',4);pl([[58,9],[58,26]],'#000',1,4);rect(56,12,4,11,'#d00000',null,4);pl([[64,13],[64,24]],'#000',1,4);rect(62,15,4,6,'#fff','#000',4);
btn(76,8,20,20,W,['LOG']);btn(97,8,21,20,G,['LIN']);btn(120,8,20,20,G,['%']);
rect(147,9,97,18,BROWN,'#fff',2,1.5);text('Journalier',151,18.5,{size:10,fill:'#e4d6d4',z:5});rect(226,10,18,16,'#fff',null,3);
gfx.push({type:'polygon',z:4,silent:true,shape:{points:[[232,17],[240,17],[236,21]]},style:{fill:'#000'}});
btn(252,8,20,20,G);pl([[261,9],[261,27]],'#d00000',1.5,4);pl([[256,24],[262,18],[265,20],[270,12]],'#000',1,4);
btn(275,8,19,20,G);rect(279,11,5,5,'#0000d0',null,4);rect(285,10,5,4,'#d00000',null,4);rect(279,16,5,4,'#0a8a0a',null,4);rect(286,15,5,4,'#ff30ff',null,4);pl([[278,22],[292,22]],'#000',1,4);pl([[278,25],[292,25]],'#000',1.2,4);
btn(297,8,20,20,W);rect(300,11,14,14,'#fff','#000',4);pl([[301,19],[306,16],[308,18],[313,13]],'#000',1,5);pl([[302,25],[302,22],[305,25],[305,21],[308,25],[308,22],[311,25],[311,22]],'#d00000',1,5);
btn(318,8,20,20,W);text('N E',328,14,{align:'center',size:7.5,weight:'bold',fill:'#d00000',z:5});text('W S',328,22,{align:'center',size:7.5,weight:'bold',fill:'#d00000',z:5});
btn(2,37,19,20,G);gfx.push({type:'polygon',z:4,silent:true,shape:{points:[[5,42],[18,42],[15,54],[8,54]]},style:{fill:'#333'}});
btn(28,37,21,20,G,['PAR','SAR']);
btn(57,37,20,20,W,['BOL']);input(80,37,23,20,'20');
btn(111,37,20,20,W,['EMA',{t:'1',c:'#e00000'}]);input(134,37,23,20,'10');
btn(159,37,20,20,W,['EMA',{t:'2',c:'#b000c0'}]);input(182,37,23,20,'50');
btn(213,37,20,20,W,['SMA',{t:'1',c:'#e00000'}]);input(236,37,23,20,'10');
btn(267,37,20,20,W,['SMA',{t:'2',c:'#b000c0'}]);input(290,37,23,20,'50');
btn(326,37,20,20,G,['VOL','EMA']);input(350,37,23,20,'10');
btn(381,37,20,20,G);pl([[383,41],[388,48],[392,44],[399,53]],'#ff30ff',1,4);pl([[383,52],[388,46],[393,50],[398,41]],'#0000d0',1,4);
gfx.push({type:'polygon',z:4,silent:true,shape:{points:[[392,39],[400,39],[396,44]]},style:{fill:'#d00000'}});
gfx.push({type:'polygon',z:4,silent:true,shape:{points:[[387,50],[383,56],[391,56]]},style:{fill:'#0a8a0a'}});
// status lines
text('1 397,45 |L: 1 378,24 |C: 1 382,20 (-1,14%) |N: 0,0 |V: 530 184 387 |MACD: 8,8 |DMI: 23,36',0,73.5,{size:10.6,fill:'#e00000'});
rect(-2,82,149,14,'#fff','#000',2,1);
text('—',1,89.5,{size:10,fill:'#e00000',z:5});text('SMA1',13,89.5,{size:10.5,weight:'bold',fill:'#e00000',z:5});
text('—',50,89.5,{size:10,fill:'#000',z:5});text('EMA',62,89.5,{size:10.5,weight:'bold',fill:'#000',z:5});
text('—',92,89.5,{size:10,fill:'#0a8a0a',z:5});text('S&P500',105,89.5,{size:10.5,weight:'bold',fill:'#0a7a0a',z:5});
text('1 684,91   C: 1 690,91] (-0,38%)',5,106,{size:10,fill:'#111'});
text('14,75]',-5,626,{size:9.5,fill:'#111'});
text('1,38]',0,733,{size:9.5,fill:'#111'});
// crosshair tooltip
pl([[1463,766],[1495,766]],'#cfe6e6',1,2);
rect(1418,760,44,13,'#ffffc8','#000',55,1);
text('28,48',1440,766.5,{align:'center',size:10.5,fill:'#000',z:56});
// annotations
text("Lindsay's Three Peaks and a Domed House",185,145,{size:25,weight:'bold',family:LBL2,fill:'#4050cc'});
text('Durée = 13 à 20 mois',605,434,{size:25,weight:'bold',family:LBL2,fill:'#a050a4'});
text('1800 fin octobre 2013',1316,23,{size:14.8,weight:'bold',family:LBL2,fill:'#4050c8'});
waveLabels.forEach(l=>text(l[0],l[1],l[2],{align:'center',size:14.5,weight:'bold',family:LBL2,fill:'#4858d0'}));

// ---------- SERIES ----------
const series=[
 rules(0,priceTicks.map(lg)),rules(1,[0.5]),rules(2,volTicks),rules(3,macdTicks),rules(4,dmiTicks.concat([28.48])),
 {type:'candlestick',xAxisIndex:0,yAxisIndex:0,barWidth:3,silent:true,z:4,
  encode:{x:0,y:[1,2,3,4]},
  data:candles.map((c,i)=>[i,lg(c[0]),lg(c[1]),lg(c[2]),lg(c[3])]),
  itemStyle:{color:'#109a10',color0:'#d40000',borderColor:'#000',borderColor0:'#000',borderWidth:0.9}},
 priceLine('BollUp',bollUp,'#808080',1),
 priceLine('BollLow',bollLow,'#808080',1),
 priceLine('SMA50',sma50,'#ff00ff',1.3),
 priceLine('EMA50',ema50,'#0000e0',1.3),
 priceLine('SMA10',sma10,'#e00000',1),
 priceLine('EMA10',ema10,'#000000',1),
 {type:'bar',xAxisIndex:2,yAxisIndex:2,barWidth:3,silent:true,data:volume.map((v,i)=>[i,v]),itemStyle:{color:'#c00000'},z:4},
 {type:'bar',xAxisIndex:3,yAxisIndex:3,barWidth:3,silent:true,data:macdHist.map((v,i)=>[i,v]),itemStyle:{color:'#109a10'},z:4},
 line('MACDzero',[[xMin,0],[xMax,0]],'#000',1.4,3),
 line('MACD signal',macdSignal,'#f0a800',1,3,null,0.25),
 line('MACD',macdLine,'#0000d0',1.4,3,null,0.25),
 ...signals(3,macdSell,{val:26.4,dir:-1},'#e00000','#e00000'),
 ...signals(3,macdBuy,{val:-21.7,dir:1},'#00c000','#00b000'),
 line('DI-',diMinus,'#f0a800',1,4),
 line('DI+',diPlus,'#108010',1,4),
 line('ADX',adx,'#0000d0',1.4,4,null,0.25),
 ...signals(4,dmiSell,{val:43.9,dir:-1},'#e00000','#e00000'),
 ...signals(4,dmiBuy,{val:6.8,dir:1},'#00c000','#00b000'),
 Object.assign(line('duration',durationLine,'#a050a8',3,5),{z:30,clip:false}),
 Object.assign(line('forecast',forecast,'#000',3.2,5),{z:31,clip:false}),
];
const chart=echarts.init(document.getElementById('c'),null,{renderer:'canvas',width:1498,height:862});
chart.setOption({animation:false,backgroundColor:BROWN,grid:grids,xAxis:xAxes,yAxis:yAxes,series,graphic:{elements:gfx}});
</script></body></html>
